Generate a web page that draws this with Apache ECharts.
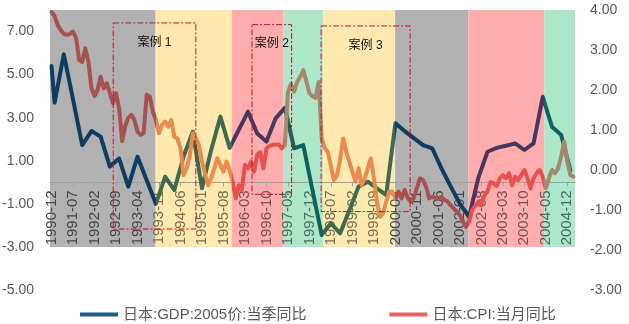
<!DOCTYPE html>
<html><head><meta charset="utf-8">
<script src="https://cdn.jsdelivr.net/npm/echarts@6/dist/echarts.min.js"></script>
<style>html,body{margin:0;padding:0;background:#fff}#c{width:629px;height:324px}</style>
</head><body><div id="c"></div>
<script>
// ---- categories: monthly, 1990-12 .. 2005-02 ----
const firstYear = 1990, firstMonth = 12, monthCount = 171;
const categories = [];
for (let k = 0; k < monthCount; k++) {
  const m = firstMonth - 1 + k;
  const y = firstYear + Math.floor(m / 12);
  const mm = (m % 12) + 1;
  categories.push(y + '-' + (mm < 10 ? '0' + mm : mm));
}

// ---- GDP (left axis), quarterly points: month index and value ----
const gdpMonth = [0, 1, 4, 7, 10, 13, 16, 19, 22, 25, 28, 31, 34, 37, 40, 43, 46, 49, 52, 55, 58, 61, 64, 67, 70, 73, 76, 79, 82, 85, 88, 91, 94, 97, 100, 103, 106, 109, 112, 115, 118, 121, 124, 127, 130, 133, 136, 139, 142, 145, 148, 151, 154, 157, 160, 163, 166, 169];
const gdpValue = [5.4, 3.7, 5.94, 3.85, 1.73, 2.38, 2.12, 0.73, 1.11, -0.2, 1.19, 0.1, -1.0, 0.26, -0.36, 1.2, 2.35, -0.28, 1.5, 3.05, 1.6, 2.44, 3.28, 2.27, 1.89, 2.97, 3.46, 1.58, 1.73, -0.36, -2.45, -1.9, -2.37, -1.3, -0.2, 0.03, -0.28, -0.59, 2.74, 2.38, 2.05, 1.73, 1.58, 0.65, -0.19, -1.0, -1.6, 0.2, 1.42, 1.6, 1.7, 1.81, 1.5, 1.81, 3.97, 2.58, 2.2, 0.55];

// ---- CPI (right axis), monthly ----
const cpiValue = [
  3.95, 3.85, 3.62, 3.5, 3.4, 3.38, 3.4, 3.46, 3.3, 2.75,
  2.7, 3.04, 2.71, 2.05, 1.85, 2.0, 2.33, 2.04, 2.17, 1.92,
  1.67, 1.92, 1.55, 0.72, 1.1, 1.3, 1.38, 1.25, 0.96, 0.88,
  0.92, 1.88, 1.83, 1.46, 1.25, 0.92, 1.13, 1.21, 1.08, 1.25,
  0.83, 0.79, 0.54, -0.13, 0.04, 0.33, 0.92, 0.79, 0.63, 0.21,
  -0.1, -0.38, -0.21, 0.04, 0.29, 0.13, -0.04, 0.21, 0.0, -0.3,
  -0.71, -0.38, -0.5, 0.13, 0.04, 0.21, -0.04, 0.38, 0.45, 0.04,
  0.54, 0.6, 0.63, 0.63, 0.64, 0.54, 0.62, 1.95, 2.15, 1.96,
  2.2, 2.33, 2.5, 2.21, 1.92, 1.85, 1.8, 2.2, 0.8, 0.55,
  0.45, 0.1, -0.25, -0.13, 0.25, 0.79, 0.45, 0.21, -0.05, -0.29,
  0.04, -0.38, -0.21, 0.04, 0.29, -0.2, -0.79, -1.17, -1.08, -0.79,
  -0.54, -0.54, -0.71, -0.54, -0.71, -0.5, -0.7, -0.79, -0.7, -0.45,
  -0.21, -0.25, -0.42, -0.71, -0.67, -0.7, -0.71, -0.67, -0.75, -0.79,
  -0.88, -0.96, -1.04, -1.13, -1.29, -1.42, -1.3, -1.0, -0.9, -0.8,
  -0.88, -0.63, -0.54, -0.3, -0.33, -0.4, -0.21, -0.13, -0.21, -0.08,
  -0.38, -0.17, -0.25, -0.13, 0.0, -0.2, -0.46, -0.21, -0.08, 0.0,
  -0.17, -0.46, -0.21, 0.0, -0.08, 0.04, 0.35, 0.71, 0.21, -0.13, -0.17
];

// ---- background phase bands (month-index boundaries) ----
const bandStart = [-0.5, 33.9, 58.7, 75.6, 88.4, 111.9, 135.8, 160.5];
const bandEnd   = [33.9, 58.7, 75.6, 88.4, 111.9, 135.8, 160.5, 170.5];
const bandType  = ['grey', 'yellow', 'pink', 'green', 'yellow', 'grey', 'pink', 'green'];
const bandLow = -3, bandHigh = 8;

// ---- case boxes ----
const boxName = ['案例 1', '案例 2', '案例 3'];
const boxFrom = [20.1, 65.3, 87.8];
const boxTo   = [47.0, 78.2, 116.8];
const boxTop  = [7.4, 7.32, 7.26];
const boxBottom = [-2.17, -0.56, -1.36];

// ---- tick labels ----
const leftMin = -5, leftMax = 8;
const leftTicks = [-5, -3, -1, 1, 3, 5, 7];
const gdpName = '日本:GDP:2005价:当季同比';
const cpiName = '日本:CPI:当月同比';

// ---- styles ----
const fillColor = {grey: '#b1b1b1', yellow: '#ffe9b1', pink: '#ffadad', green: '#ade6c8'};
const gdpColor  = {grey: '#0e3d5f', yellow: '#3e6b4e', pink: '#47375f', green: '#11625d'};
const cpiColor  = {grey: '#a8524f', yellow: '#e88b4c', pink: '#e8504f', green: '#a38a6c'};
const labelColor = {grey: '#454545', yellow: '#7a6e52', pink: '#7a5252', green: '#4a6a5c'};
const FONT = "'Liberation Sans', 'Noto Sans CJK SC', sans-serif";

function bandOf(i) {
  for (let k = 0; k < bandStart.length; k++) if (i >= bandStart[k] && i < bandEnd[k]) return bandType[k];
  return bandType[bandType.length - 1];
}

const rich = {};
Object.keys(labelColor).forEach(t => { rich[t] = {color: labelColor[t], fontSize: 15, fontFamily: FONT}; });

const chart = echarts.init(document.getElementById('c'), null, {renderer: 'canvas'});
chart.setOption({
  animation: false,
  textStyle: {fontFamily: FONT},
  grid: {left: 50, right: 54, top: 10, bottom: 34, containLabel: false, outerBoundsMode: 'none'},
  legend: {
    left: 75, top: 302, itemWidth: 38, itemHeight: 4, itemGap: 83, icon: 'rect',
    textStyle: {fontSize: 15, color: '#595959', fontFamily: FONT},
    data: [
      {name: gdpName, itemStyle: {color: '#1f5c8c'}},
      {name: cpiName, itemStyle: {color: '#e06666'}}
    ]
  },
  xAxis: [
    {
      type: 'category', data: categories, boundaryGap: true, z: 1.5, position: 'bottom', offset: 0,
      axisLine: {onZero: false, lineStyle: {color: '#a0a0a0', width: 1}},
      axisTick: {show: true, interval: 6, alignWithLabel: true, length: 4, lineStyle: {color: '#a0a0a0'}},
      axisLabel: {
        interval: 6, rotate: 90, margin: 8, fontSize: 15, color: '#595959',
        formatter: (v, i) => '{' + bandOf(i) + '|' + v + '}', rich: rich
      },
      splitLine: {show: false}
    },
    {type: 'value', min: -0.5, max: 170.5, show: false}
  ],
  yAxis: [
    {
      type: 'value', min: leftMin, max: leftMax, interval: 1,
      axisLine: {show: false}, axisTick: {show: false}, splitLine: {show: false},
      axisLabel: {
        margin: 16, fontSize: 14, color: '#595959',
        formatter: v => leftTicks.indexOf(v) >= 0 ? v.toFixed(2) : ''
      }
    },
    {
      type: 'value', min: -3, max: 4, interval: 1, position: 'right',
      axisLine: {show: false}, axisTick: {show: false}, splitLine: {show: false},
      axisLabel: {margin: 15, fontSize: 14, color: '#595959', formatter: v => v.toFixed(2)}
    }
  ],
  visualMap: [
    {
      type: 'piecewise', show: false, dimension: 0, seriesIndex: 1,
      pieces: bandStart.map((s, k) => ({gte: s, lt: bandEnd[k], color: gdpColor[bandType[k]]})),
      outOfRange: {color: gdpColor.green}
    },
    {
      type: 'piecewise', show: false, dimension: 0, seriesIndex: 2,
      pieces: bandStart.map((s, k) => ({gte: s, lt: bandEnd[k], color: cpiColor[bandType[k]]})),
      outOfRange: {color: cpiColor.green}
    }
  ],
  series: [
    {
      name: 'bands', type: 'line', xAxisIndex: 1, yAxisIndex: 0, data: [], silent: true,
      markArea: {
        silent: true, z: 1,
        data: bandStart.map((s, k) => [
          {xAxis: s, yAxis: bandLow, itemStyle: {color: fillColor[bandType[k]], opacity: 1}},
          {xAxis: bandEnd[k], yAxis: bandHigh}
        ])
      }
    },
    {
      name: gdpName, type: 'line', xAxisIndex: 1, yAxisIndex: 0, z: 3,
      data: gdpMonth.map((m, k) => [m, gdpValue[k]]),
      showSymbol: false, symbol: 'none', smooth: false,
      lineStyle: {width: 4, cap: 'round', join: 'round'}
    },
    {
      name: cpiName, type: 'line', xAxisIndex: 1, yAxisIndex: 1, z: 3,
      data: cpiValue.map((v, k) => [k, v]),
      showSymbol: false, symbol: 'none', smooth: false,
      lineStyle: {width: 4, cap: 'round', join: 'round'}
    },
    {
      name: 'boxes', type: 'line', xAxisIndex: 1, yAxisIndex: 0, data: [], silent: true,
      markArea: {
        silent: true, z: 6,
        itemStyle: {color: 'rgba(0,0,0,0)', borderColor: '#c8102e', borderWidth: 1, borderType: [6, 2, 2, 2]},
        label: {show: true, position: 'insideTop', distance: 14, color: '#111', fontSize: 12, fontFamily: FONT},
        data: boxName.map((n, k) => [
          {name: n, xAxis: boxFrom[k], yAxis: boxTop[k]},
          {xAxis: boxTo[k], yAxis: boxBottom[k]}
        ])
      }
    }
  ]
});

// Move the category axis (line, ticks and labels) up to the left axis' zero value.
const zeroY = chart.convertToPixel({yAxisIndex: 0}, 0);
const bottomY = chart.convertToPixel({yAxisIndex: 0}, leftMin);
chart.setOption({xAxis: [{offset: zeroY - bottomY}, {}]});
</script>
</body></html>
